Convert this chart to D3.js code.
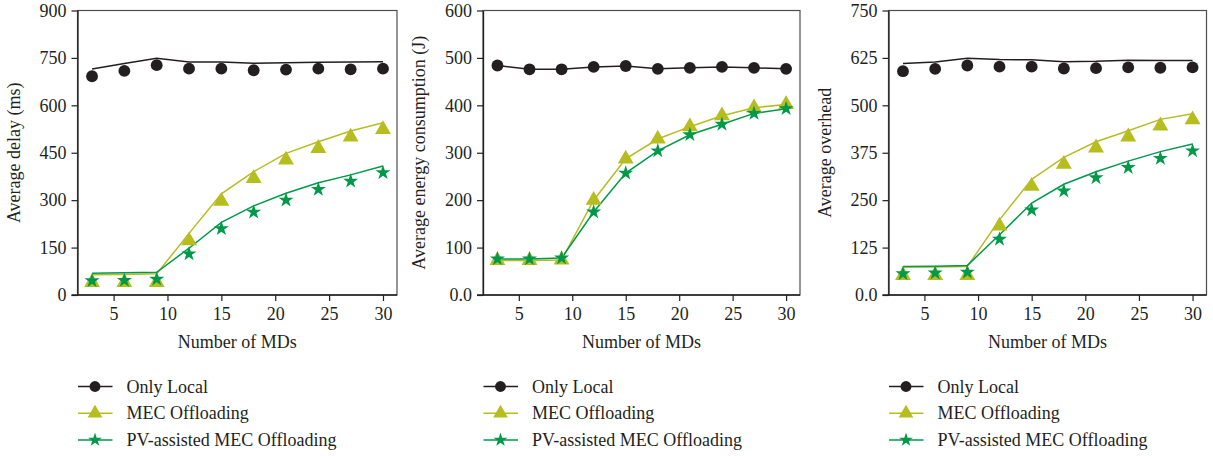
<!DOCTYPE html>
<html>
<head>
<meta charset="utf-8">
<script src="https://cdn.jsdelivr.net/npm/d3@7"></script>
<style>
  body { margin: 0; background: #fff; }
  svg { display: block; }
  text { font-family: "Liberation Serif", "DejaVu Serif", serif; fill: #231f20; }
</style>
</head>
<body>
<svg id="chart" width="1213" height="456"></svg>
<script>
// Количество MD по оси X
const mds = [3, 6, 9, 12, 15, 18, 21, 24, 27, 30];

// Задержка (ms): маркеры - симуляция, линии - анализ
const delayLocalPts = [692, 709, 727, 716, 716, 711, 713, 716, 714, 716];
const delayLocalLine = [715, 732, 749, 737, 737, 733, 735, 736, 737, 738];
const delayMecPts = [40, 40, 40, 172, 297, 369, 427, 464, 500, 524];
const delayMecLine = [64, 65, 67, 195, 320, 390, 448, 485, 519, 545];
const delayPvPts = [45, 46, 50, 130, 210, 262, 300, 334, 360, 387];
const delayPvLine = [69, 70, 72, 148, 230, 282, 322, 355, 380, 408];

// Энергия (J): линии проходят через маркеры
const energyLocal = [484, 476, 476, 481, 483, 477, 479, 481, 479, 477];
const energyMec = [73, 73, 74, 200, 287, 329, 355, 378, 395, 402];
const energyPv = [76, 76, 78, 175, 257, 304, 338, 360, 383, 393];

// Накладные расходы
const overLocalPts = [590, 596, 605, 602, 602, 597, 598, 600, 599, 600];
const overLocalLine = [610, 614, 624, 621, 620, 615, 616, 619, 618, 618];
const overMecPts = [52, 52, 52, 182, 287, 345, 388, 417, 446, 462];
const overMecLine = [74, 74, 75, 198, 305, 363, 404, 433, 463, 478];
const overPvPts = [56, 58, 60, 147, 224, 274, 309, 336, 360, 380];
const overPvLine = [75, 76, 78, 159, 242, 292, 325, 353, 378, 398];

const xTicks = [5, 10, 15, 20, 25, 30];
const delayTicks = [0, 150, 300, 450, 600, 750, 900];
const energyTicks = [0, 100, 200, 300, 400, 500, 600];
const overTicks = [0, 125, 250, 375, 500, 625, 750];

const seriesNames = ['Only Local', 'MEC Offloading', 'PV-assisted MEC Offloading'];
const colors = ['#231f20', '#b6bd1f', '#00994a'];
const shapes = [d3.symbolCircle, d3.symbolTriangle, d3.symbolStar];
const sizes = [110, 110, 70];

const panels = [
    { left: 77.5, right: 397, label: 'Average delay (ms)', ticks: delayTicks, fmt: d => d,
      pts: [delayLocalPts, delayMecPts, delayPvPts], lines: [delayLocalLine, delayMecLine, delayPvLine] },
    { left: 483, right: 800, label: 'Average energy consumption (J)', ticks: energyTicks, fmt: d => d === 0 ? '0.0' : d,
      pts: [energyLocal, energyMec, energyPv], lines: [energyLocal, energyMec, energyPv] },
    { left: 888.5, right: 1206.5, label: 'Average overhead', ticks: overTicks, fmt: d => d === 0 ? '0.0' : d,
      pts: [overLocalPts, overMecPts, overPvPts], lines: [overLocalLine, overMecLine, overPvLine] }
];

const plotTop = 10.5, plotBottom = 295;
const svg = d3.select('#chart');

panels.forEach((p) => {
    const x = d3.scaleLinear().domain([1.65, 31.3]).range([p.left, p.right]);
    const y = d3.scaleLinear().domain([0, d3.max(p.ticks)]).range([plotBottom, plotTop]);
    const g = svg.append('g');

    // Рамка
    g.append('rect')
        .attr('x', p.left).attr('y', plotTop)
        .attr('width', p.right - p.left).attr('height', plotBottom - plotTop)
        .attr('fill', 'none').attr('stroke', '#4d4d4f').attr('stroke-width', 1.2);

    const xAxis = g.append('g')
        .attr('transform', 'translate(0,' + plotBottom + ')')
        .call(d3.axisBottom(x).tickValues(xTicks).tickSize(6).tickPadding(6).tickSizeOuter(0));
    const yAxis = g.append('g')
        .attr('transform', 'translate(' + p.left + ',0)')
        .call(d3.axisLeft(y).tickValues(p.ticks).tickFormat(p.fmt).tickSize(6).tickPadding(5).tickSizeOuter(0));
    [xAxis, yAxis].forEach(a => {
        a.select('.domain').attr('stroke', '#231f20').attr('stroke-width', 1.3);
        a.selectAll('.tick line').attr('stroke', '#231f20').attr('stroke-width', 1.2);
        a.selectAll('text').attr('font-size', 18).attr('font-family', '"Liberation Serif", serif').attr('fill', '#231f20');
    });
    // ось X немного заходит левее оси Y, как в оригинале
    xAxis.select('.domain').attr('d', 'M' + (p.left - 6) + ',0H' + p.right);

    g.append('text')
        .attr('x', (p.left + p.right) / 2).attr('y', 348)
        .attr('text-anchor', 'middle').attr('font-size', 18)
        .text('Number of MDs');
    g.append('text')
        .attr('transform', 'translate(' + (p.left - 58) + ',' + ((plotTop + plotBottom) / 2) + ') rotate(-90)')
        .attr('text-anchor', 'middle').attr('font-size', 18)
        .text(p.label);

    const line = d3.line().x((d, i) => x(mds[i])).y(d => y(d));

    p.lines.forEach((vals, s) => {
        g.append('path').datum(vals)
            .attr('d', line).attr('fill', 'none')
            .attr('stroke', colors[s]).attr('stroke-width', 1.5);
    });
    p.pts.forEach((vals, s) => {
        g.selectAll(null).data(vals).enter().append('path')
            .attr('d', d3.symbol().type(shapes[s]).size(sizes[s]))
            .attr('transform', (d, i) => 'translate(' + x(mds[i]) + ',' + y(d) + ')')
            .attr('fill', colors[s]);
    });

    // Легенда
    const leg = g.append('g').attr('transform', 'translate(' + p.left + ',0)');
    seriesNames.forEach((name, s) => {
        const ly = 386.5 + s * 26.7;
        leg.append('line')
            .attr('x1', 0.5).attr('x2', 35).attr('y1', ly).attr('y2', ly)
            .attr('stroke', colors[s]).attr('stroke-width', 1.5);
        leg.append('path')
            .attr('d', d3.symbol().type(shapes[s]).size(sizes[s] * 0.85))
            .attr('transform', 'translate(17.5,' + ly + ')')
            .attr('fill', colors[s]);
        leg.append('text')
            .attr('x', 49).attr('y', ly + 6)
            .attr('font-size', 18)
            .text(name);
    });
});
</script>
</body>
</html>
